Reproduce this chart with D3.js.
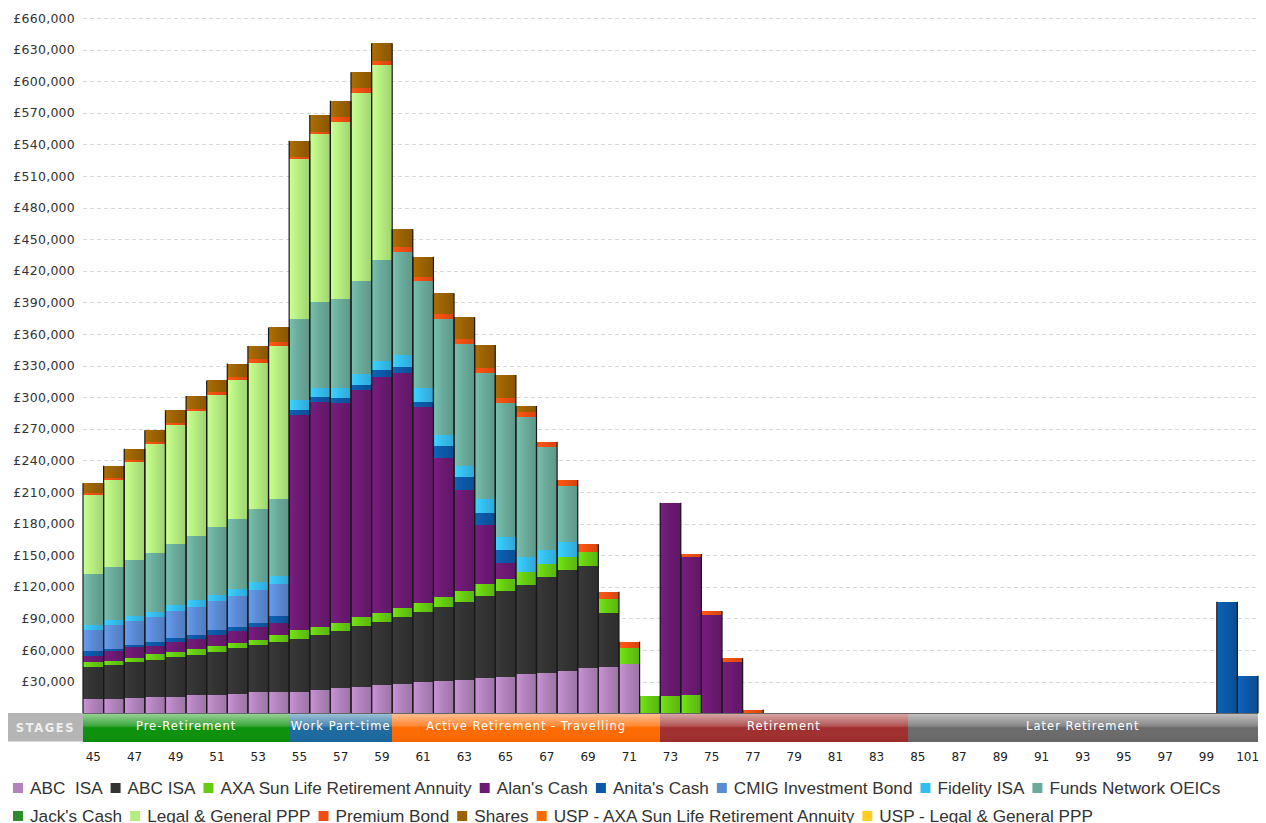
<!DOCTYPE html>
<html>
<head>
<meta charset="utf-8">
<script src="https://cdn.jsdelivr.net/npm/d3@7"></script>
<style>
  body { margin: 0; background: #ffffff; }
  svg { display: block; }
</style>
</head>
<body>
<svg id="chart" width="1266" height="823"></svg>
<script>
// ---- Ages on the x axis ----
const ages = [45,46,47,48,49,50,51,52,53,54,
              55,56,57,58,59,60,61,62,63,64,
              65,66,67,68,69,70,71,72,73,74,
              75,76,77,78,79,80,81,82,83,84,
              85,86,87,88,89,90,91,92,93,94,
              95,96,97,98,99,100,101];

// ---- Holding values per age (GBP), bottom of the stack first ----
const abcIsaA = [13600,13600,14500,15500,15700,17000,17400,18600,19800,20200,
                 20500,22100,23700,25300,26600,27800,29400,30700,31600,33200,
                 34700,37300,38500,40200,42700,44200,46800,0,0,0,
                 0,0,0,0,0,0,0,0,0,0,
                 0,0,0,0,0,0,0,0,0,0,
                 0,0,0,0,0,0,0];
const abcIsaB = [30300,32500,33800,35100,37400,38600,41100,43000,45300,47500,
                 50000,52200,54700,57600,60300,63300,67000,69900,74300,78100,
                 81700,84500,90600,95800,97100,50700,0,0,0,0,
                 0,0,0,0,0,0,0,0,0,0,
                 0,0,0,0,0,0,0,0,0,0,
                 0,0,0,0,0,0,0];
const axaAnnuity = [4400,3800,3800,5400,5100,5100,5100,5100,4700,6600,
                    8600,7900,7600,8200,8600,9100,8600,9500,9900,11100,
                    11100,12600,12600,12100,13600,13600,14900,16700,16400,17400,
                    0,0,0,0,0,0,0,0,0,0,
                    0,0,0,0,0,0,0,0,0,0,
                    0,0,0,0,0,0,0];
const alansCash = [5700,8900,10400,8200,9500,9800,11100,11100,11700,11400,
                   204200,213600,208800,215800,224000,222500,185500,132500,96200,55900,
                   14900,0,0,0,0,0,0,0,183500,130600,
                   93300,49000,0,0,0,0,0,0,0,0,
                   0,0,0,0,0,0,0,0,0,0,
                   0,0,0,0,0,0,0];
const anitasCash = [4700,2500,1900,3800,3800,3800,4100,4100,4100,6300,
                    4800,4700,4200,4700,6400,6300,5300,11100,12000,11500,
                    12600,0,0,0,0,0,0,0,0,0,
                    0,0,0,0,0,0,0,0,0,0,
                    0,0,0,0,0,0,0,0,0,0,
                    0,0,0,0,0,105900,35700];
const cmigBond = [20600,22100,22800,23100,25900,26300,27500,29700,31600,30700,
                  0,0,0,0,0,0,0,0,0,0,
                  0,0,0,0,0,0,0,0,0,0,
                  0,0,0,0,0,0,0,0,0,0,
                  0,0,0,0,0,0,0,0,0,0,
                  0,0,0,0,0,0,0];
const fidelityIsa = [4700,5400,4700,5400,5100,7000,6300,6600,7000,7300,
                     9300,8000,9500,10500,8800,11100,12700,10500,11000,13600,
                     12600,14200,13300,14800,0,0,0,0,0,0,
                     0,0,0,0,0,0,0,0,0,0,
                     0,0,0,0,0,0,0,0,0,0,
                     0,0,0,0,0,0,0];
const fundsNetwork = [48100,50000,53800,56000,58200,61000,64200,66100,69600,73700,
                      76900,82200,84800,88500,95600,98100,102100,110100,115300,119300,
                      127200,132400,97500,53100,0,0,0,0,0,0,
                      0,0,0,0,0,0,0,0,0,0,
                      0,0,0,0,0,0,0,0,0,0,
                      0,0,0,0,0,0,0];
const jacksCash = [0,0,0,0,0,0,0,0,0,0,
                   0,0,0,0,0,0,0,0,0,0,
                   0,0,0,0,0,0,0,0,0,0,
                   0,0,0,0,0,0,0,0,0,0,
                   0,0,0,0,0,0,0,0,0,0,
                   0,0,0,0,0,0,0];
const legalGeneral = [74800,82800,92700,103200,113200,118700,125000,132200,138700,144600,
                      151600,158900,168200,178500,185100,0,0,0,0,0,
                      0,0,0,0,0,0,0,0,0,0,
                      0,0,0,0,0,0,0,0,0,0,
                      0,0,0,0,0,0,0,0,0,0,
                      0,0,0,0,0,0,0];
const premiumBond = [2500,1600,1600,1600,1600,1600,2800,3200,4100,3800,
                     2400,2400,4800,4200,3800,4700,3800,4700,4700,4800,
                     4800,5300,5300,5400,7000,6900,6300,0,0,3200,
                     3800,3200,3500,0,0,0,0,0,0,0,
                     0,0,0,0,0,0,0,0,0,0,
                     0,0,0,0,0,0,0];
const shares = [8900,11700,11100,11400,12000,12300,11400,12300,12000,14200,
                15200,15900,15200,15100,16800,16500,19000,19700,20900,22100,
                21500,5400,0,0,0,0,0,0,0,0,
                0,0,0,0,0,0,0,0,0,0,
                0,0,0,0,0,0,0,0,0,0,
                0,0,0,0,0,0,0];
const uspAxa = [0,0,0,0,0,0,0,0,0,0,
                0,0,0,0,0,0,0,0,0,0,
                0,0,0,0,0,0,0,0,0,0,
                0,0,0,0,0,0,0,0,0,0,
                0,0,0,0,0,0,0,0,0,0,
                0,0,0,0,0,0,0];
const uspLegalGeneral = [0,0,0,0,0,0,0,0,0,0,
                         0,0,0,0,0,0,0,0,0,0,
                         0,0,0,0,0,0,0,0,0,0,
                         0,0,0,0,0,0,0,0,0,0,
                         0,0,0,0,0,0,0,0,0,0,
                         0,0,0,0,0,0,0];

// ---- Series names, legend order = stack order ----
const seriesNames = ["ABC  ISA","ABC ISA","AXA Sun Life Retirement Annuity","Alan's Cash",
  "Anita's Cash","CMIG Investment Bond","Fidelity ISA","Funds Network OEICs",
  "Jack's Cash","Legal & General PPP","Premium Bond","Shares",
  "USP - AXA Sun Life Retirement Annuity","USP - Legal & General PPP"];
const seriesValues = [abcIsaA, abcIsaB, axaAnnuity, alansCash, anitasCash, cmigBond,
  fidelityIsa, fundsNetwork, jacksCash, legalGeneral, premiumBond, shares, uspAxa, uspLegalGeneral];
const seriesColors = ["#b283bd","#333333","#66cc11","#6c1a72","#0c58a6","#5b8bd5",
  "#35bdef","#6aab9b","#2e8b2e","#b5ee80","#ee4f10","#9b6200","#ff6a00","#ffcc22"];

// ---- Y ticks ----
const yTicks = [30000,60000,90000,120000,150000,180000,210000,240000,270000,300000,
  330000,360000,390000,420000,450000,480000,510000,540000,570000,600000,630000,660000];

// ---- Life stages along the bottom ----
const stageNames = ["Pre-Retirement","Work Part-time","Active Retirement - Travelling","Retirement","Later Retirement"];
const stageFrom = [45,55,60,73,85];
const stageTo   = [54,59,72,84,101];
const stageColors = ["#0c920c","#1c6aa0","#ff6a00","#a02f2e","#6b6b6b"];

// ---- Layout ----
const plotL = 83, plotR = 1258, baseY = 713.3, topY = 18;
const stageTop = 713, stageBot = 741.5;

const svg = d3.select("#chart");
const defs = svg.append("defs");

const x = d3.scaleBand().domain(ages).range([plotL, plotR]).padding(0);
const y = d3.scaleLinear().domain([0, 660000]).range([baseY, topY]);

// Horizontal shading for each series
seriesColors.forEach((c, i) => {
  const g = defs.append("linearGradient").attr("id", "sg" + i)
    .attr("x1", 0).attr("x2", 1).attr("y1", 0).attr("y2", 0);
  g.append("stop").attr("offset", "0%").attr("stop-color", d3.color(c).brighter(0.35));
  g.append("stop").attr("offset", "45%").attr("stop-color", c);
  g.append("stop").attr("offset", "100%").attr("stop-color", d3.color(c).darker(0.35));
});

// Gridlines
svg.append("g").selectAll("line").data(yTicks).join("line")
  .attr("x1", plotL).attr("x2", plotR)
  .attr("y1", d => Math.round(y(d)) + 0.5).attr("y2", d => Math.round(y(d)) + 0.5)
  .attr("stroke", "#d8d8d8").attr("stroke-width", 1).attr("stroke-dasharray", "4,3");

// Y axis labels
svg.append("g").selectAll("text").data(yTicks).join("text")
  .attr("x", 75).attr("y", d => y(d))
  .attr("text-anchor", "end").attr("dominant-baseline", "central")
  .attr("font-family", "DejaVu Sans, Verdana, sans-serif").attr("font-size", 12.5)
  .attr("letter-spacing", 0.25)
  .attr("fill", "#333")
  .text(d => "£" + d3.format(",")(d));

// Stacked data
const rows = ages.map((a, i) => {
  const r = { age: a };
  seriesNames.forEach((n, k) => { r[n] = seriesValues[k][i]; });
  return r;
});
const stacked = d3.stack().keys(seriesNames)(rows);

const barsG = svg.append("g");
stacked.forEach((layer, k) => {
  barsG.append("g").attr("fill", `url(#sg${k})`)
    .selectAll("rect").data(layer.filter(d => d[1] - d[0] > 0)).join("rect")
    .attr("x", d => x(d.data.age))
    .attr("width", x.bandwidth())
    .attr("y", d => y(d[1]))
    .attr("height", d => y(d[0]) - y(d[1]))
    .attr("shape-rendering", "crispEdges");
});

// Dark edges on the sides of each bar
const totals = rows.map(r => ({ age: r.age, total: d3.sum(seriesNames, n => r[n]) }))
  .filter(d => d.total > 0);
const edgeG = svg.append("g").attr("stroke", "#1a1a1a").attr("stroke-width", 1.2);
totals.forEach(d => {
  [x(d.age), x(d.age) + x.bandwidth()].forEach(xx => {
    edgeG.append("line").attr("x1", xx).attr("x2", xx)
      .attr("y1", y(d.total)).attr("y2", baseY);
  });
});

// Stage band
const stageG = svg.append("g");
const gloss = defs.append("linearGradient").attr("id", "gloss")
  .attr("x1", 0).attr("x2", 0).attr("y1", 0).attr("y2", 1);
gloss.append("stop").attr("offset", "0%").attr("stop-color", "#fff").attr("stop-opacity", 0.6);
gloss.append("stop").attr("offset", "45%").attr("stop-color", "#fff").attr("stop-opacity", 0.2);
gloss.append("stop").attr("offset", "52%").attr("stop-color", "#fff").attr("stop-opacity", 0);
gloss.append("stop").attr("offset", "100%").attr("stop-color", "#000").attr("stop-opacity", 0.05);

stageG.append("rect").attr("x", 8).attr("y", stageTop).attr("width", plotL - 8)
  .attr("height", stageBot - stageTop).attr("fill", "#b5b5b5");
stageG.append("text").attr("x", (8 + plotL) / 2).attr("y", (stageTop + stageBot) / 2 + 0.5)
  .attr("text-anchor", "middle").attr("dominant-baseline", "central")
  .attr("font-family", "DejaVu Sans, Verdana, sans-serif").attr("font-size", 11.5)
  .attr("font-weight", "bold").attr("letter-spacing", 1.6)
  .attr("fill", "#efefef").text("STAGES");

stageNames.forEach((s, i) => {
  const x0 = x(stageFrom[i]);
  const x1 = x(stageTo[i]) + x.bandwidth();
  stageG.append("rect").attr("x", x0).attr("y", stageTop).attr("width", x1 - x0)
    .attr("height", stageBot - stageTop).attr("fill", stageColors[i])
    .attr("shape-rendering", "crispEdges");
  stageG.append("rect").attr("x", x0).attr("y", stageTop).attr("width", x1 - x0)
    .attr("height", stageBot - stageTop).attr("fill", "url(#gloss)")
    .attr("shape-rendering", "crispEdges");
  stageG.append("text").attr("x", (x0 + x1) / 2).attr("y", stageTop + 12.5)
    .attr("text-anchor", "middle").attr("dominant-baseline", "central")
    .attr("font-family", "DejaVu Sans, Verdana, sans-serif").attr("font-size", 11.5)
    .attr("letter-spacing", 1).attr("fill", "#ffffff").text(s);
});
// axis line along the top of the stage band
svg.append("line").attr("x1", plotL).attr("x2", plotR)
  .attr("y1", stageTop + 0.5).attr("y2", stageTop + 0.5)
  .attr("stroke", "#666").attr("stroke-width", 1);

// X axis labels (every other age)
svg.append("g").selectAll("text").data(ages.filter(a => a % 2 === 1)).join("text")
  .attr("x", d => x(d) + x.bandwidth() / 2).attr("y", 757)
  .attr("text-anchor", "middle").attr("dominant-baseline", "central")
  .attr("font-family", "DejaVu Sans, Verdana, sans-serif").attr("font-size", 12)
  .attr("fill", "#222").text(d => d);

// Legend
const legendG = svg.append("g");
let lx = 13, ly = 788;
seriesNames.forEach((n, i) => {
  const item = legendG.append("g");
  item.append("rect").attr("x", 0).attr("y", -5).attr("width", 10).attr("height", 10)
    .attr("fill", seriesColors[i]);
  const t = item.append("text").attr("x", 17).attr("y", 0)
    .attr("dominant-baseline", "central")
    .attr("font-family", "Liberation Sans, Arial, sans-serif").attr("font-size", 17.2)
    .attr("fill", "#333").style("white-space", "pre").text(n);
  const w = 17 + t.node().getComputedTextLength();
  if (lx + w > 1250) { lx = 13; ly += 28; }
  item.attr("transform", `translate(${lx},${ly})`);
  lx += w + 8;
});
</script>
</body>
</html>
